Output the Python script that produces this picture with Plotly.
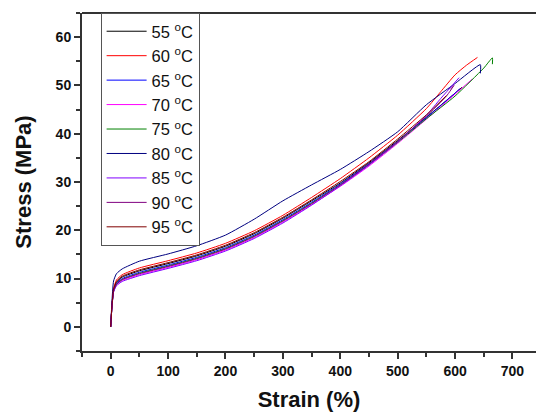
import plotly.graph_objects as go

# ---------------- data ----------------
strain_body = [0, 2, 5, 10, 20, 50, 100, 150, 200, 250, 300, 350, 400, 450, 500, 550]

labels = ["55 <sup>o</sup>C", "60 <sup>o</sup>C", "65 <sup>o</sup>C", "70 <sup>o</sup>C",
          "75 <sup>o</sup>C", "80 <sup>o</sup>C", "85 <sup>o</sup>C", "90 <sup>o</sup>C",
          "95 <sup>o</sup>C"]
colors = ["#000000", "#FF0000", "#0000FF", "#FF00FF", "#008000",
          "#000080", "#8000FF", "#800080", "#800000"]

stress_55 = [0, 4.0, 7.6, 9.2, 10.3, 11.6, 13.1, 14.7, 16.7, 19.3, 22.5, 26.1, 29.8, 34.0, 38.6, 43.4]
tail_strain_55 = [600, 612]
tail_stress_55 = [48.4, 49.6]

stress_60 = [0, 4.2, 7.9, 9.7, 10.8, 12.2, 13.7, 15.3, 17.3, 19.9, 23.1, 26.8, 30.7, 35.0, 39.7, 45.2]
tail_strain_60 = [575, 600, 620, 639]
tail_stress_60 = [48.7, 52.2, 54.2, 55.8]

stress_65 = [0, 4.0, 7.5, 9.0, 10.0, 11.3, 12.8, 14.4, 16.4, 19.0, 22.2, 25.8, 29.6, 33.8, 38.4, 43.3]
tail_strain_65 = [600, 608]
tail_stress_65 = [48.4, 49.3]

stress_70 = [0, 3.9, 7.3, 8.7, 9.6, 10.8, 12.3, 13.9, 15.9, 18.5, 21.7, 25.3, 29.1, 33.3, 38.0, 43.0]
tail_strain_70 = [600, 630]
tail_stress_70 = [48.2, 51.3]

stress_75 = [0, 3.8, 7.3, 8.8, 9.8, 11.1, 12.6, 14.2, 16.2, 18.8, 22.0, 25.6, 29.4, 33.6, 38.2, 43.1]
tail_strain_75 = [600, 650, 665, 665]
tail_stress_75 = [47.8, 53.6, 55.7, 54.4]

stress_80 = [0, 5.0, 9.5, 11.0, 12.0, 13.6, 15.1, 16.8, 19.0, 22.3, 26.1, 29.4, 32.6, 36.3, 40.4, 46.0]
tail_strain_80 = [600, 644, 644]
tail_stress_80 = [50.4, 54.3, 52.5]

stress_85 = [0, 3.8, 7.2, 8.5, 9.4, 10.6, 12.1, 13.7, 15.7, 18.3, 21.5, 25.2, 29.2, 33.5, 38.3, 43.8]
tail_strain_85 = [575, 607]
tail_stress_85 = [47.3, 51.6]

stress_90 = [0, 3.9, 7.4, 8.8, 9.8, 11.0, 12.5, 14.1, 16.1, 18.7, 21.9, 25.5, 29.4, 33.7, 38.4, 43.6]
tail_strain_90 = [585, 598, 592]
tail_stress_90 = [47.8, 50.0, 49.2]

stress_95 = [0, 4.1, 7.8, 9.4, 10.5, 11.8, 13.3, 14.9, 16.9, 19.5, 22.7, 26.3, 30.1, 34.2, 38.9, 43.9]
tail_strain_95 = [585]
tail_stress_95 = [47.9]

series = [
    (stress_55, tail_strain_55, tail_stress_55),
    (stress_60, tail_strain_60, tail_stress_60),
    (stress_65, tail_strain_65, tail_stress_65),
    (stress_70, tail_strain_70, tail_stress_70),
    (stress_75, tail_strain_75, tail_stress_75),
    (stress_80, tail_strain_80, tail_stress_80),
    (stress_85, tail_strain_85, tail_stress_85),
    (stress_90, tail_strain_90, tail_stress_90),
    (stress_95, tail_strain_95, tail_stress_95),
]

x_ticks = [0, 100, 200, 300, 400, 500, 600, 700]
y_ticks = [0, 10, 20, 30, 40, 50, 60]

# ---------------- figure ----------------
FONT = "Arial, Liberation Sans, sans-serif"
AX = "#333333"

fig = go.Figure()
for (body, ts, tv), lab, col in zip(series, labels, colors):
    fig.add_trace(go.Scatter(
        x=strain_body + ts, y=body + tv, mode="lines", name=lab,
        line=dict(color=col, width=1, shape="spline", smoothing=0.5),
    ))

axis_common = dict(
    showgrid=False, zeroline=False, showline=True, linecolor=AX, linewidth=2,
    ticks="outside", ticklen=6, tickwidth=1.5, tickcolor=AX,
    tickfont=dict(family=FONT, size=14, color="#111111", weight="bold"),
)

fig.update_layout(
    width=536, height=416,
    margin=dict(l=82, r=0, t=13, b=65),
    paper_bgcolor="white", plot_bgcolor="white",
    showlegend=True,
    legend=dict(
        x=0.041, y=1, xanchor="left", yanchor="top",
        bgcolor="white", bordercolor="#555555", borderwidth=1,
        font=dict(family=FONT, size=16.5, color="#111111"),
        itemwidth=40, tracegroupgap=0,
    ),
    xaxis=dict(
        range=[-50, 741], tickvals=x_ticks,
        minor=dict(dtick=50, tick0=0, ticks="outside", ticklen=4, tickwidth=1.5, tickcolor=AX),
        title=dict(text="Strain (%)", font=dict(family=FONT, size=22, color="#111111", weight="bold"),
                   standoff=14),
        **axis_common,
    ),
    yaxis=dict(
        range=[-5, 65], tickvals=y_ticks,
        minor=dict(dtick=5, tick0=0, ticks="outside", ticklen=4, tickwidth=1.5, tickcolor=AX),
        title=dict(text="Stress (MPa)", font=dict(family=FONT, size=22, color="#111111", weight="bold"),
                   standoff=18),
        **axis_common,
    ),
    shapes=[dict(type="line", xref="paper", yref="paper", x0=0, x1=1, y0=1, y1=1,
                 line=dict(color=AX, width=2))],
)

fig.write_html("out.html")
